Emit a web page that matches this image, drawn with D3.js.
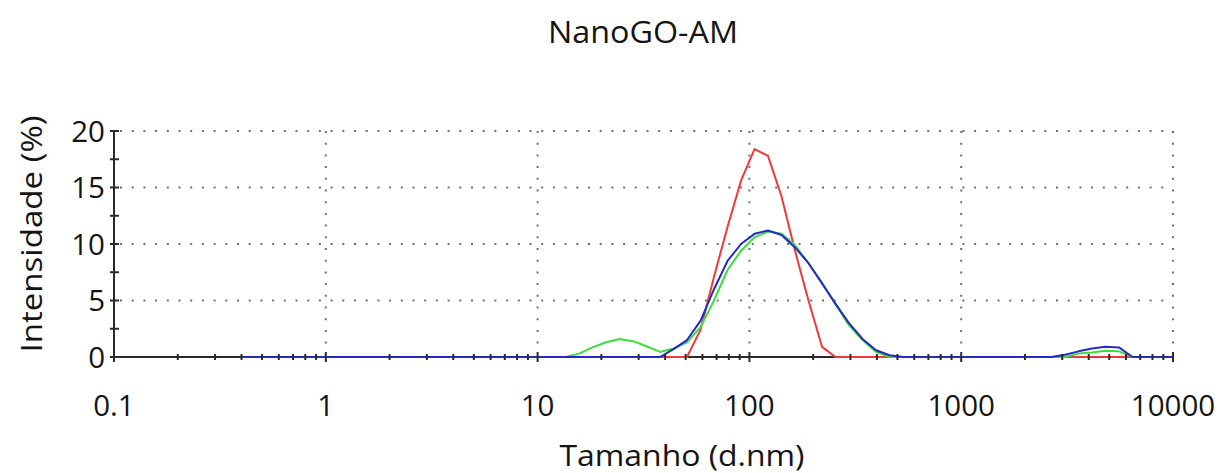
<!DOCTYPE html>
<html><head><meta charset="utf-8">
<script src="https://cdn.jsdelivr.net/npm/d3@7"></script>
<style>
html,body{margin:0;padding:0;background:#fff;}
text{font-family:"Open Sans","Noto Sans",sans-serif;fill:#141414;}
</style></head>
<body><svg id="c" width="1220" height="473"></svg>
<script>
// Size bins (d.nm)
const sizes = [0.4,0.4632,0.5365,0.6213,0.7195,0.8332,0.9649,1.117,1.294,1.499,
1.736,2.010,2.328,2.696,3.122,3.615,4.187,4.849,5.615,6.503,
7.531,8.721,10.10,11.70,13.54,15.69,18.17,21.04,24.36,28.21,
32.67,37.84,43.82,50.75,58.77,68.06,78.82,91.28,105.7,122.4,
141.8,164.2,190.1,220.2,255.0,295.3,342.0,396.1,458.7,531.2,
615.1,712.4,825.0,955.4,1106,1281,1484,1718,1990,2305,
2669,3091,3580,4145,4801,5560,6439,7456,8635,10000];
// Intensity (%) per bin for the three measurements
const redValues = [0,0,0,0,0,0,0,0,0,0,
0,0,0,0,0,0,0,0,0,0,
0,0,0,0,0,0,0,0,0,0,
0,0,0,0,2.4,7.1,11.5,15.6,18.4,17.8,
14.2,9.4,5.0,0.9,0,0,0,0,0,0,
0,0,0,0,0,0,0,0,0,0,
0,0,0,0,0,0,0,0,0,0];
const greenValues = [0,0,0,0,0,0,0,0,0,0,
0,0,0,0,0,0,0,0,0,0,
0,0,0,0,0,0.3,0.85,1.3,1.6,1.4,
0.95,0.45,0.75,1.3,2.65,5.0,7.7,9.4,10.6,11.1,
10.9,9.9,8.3,6.6,4.7,2.8,1.5,0.45,0,0,
0,0,0,0,0,0,0,0,0,0,
0,0,0.3,0.4,0.55,0.5,0,0,0,0];
const blueValues = [0,0,0,0,0,0,0,0,0,0,
0,0,0,0,0,0,0,0,0,0,
0,0,0,0,0,0,0,0,0,0,
0,0,0.7,1.5,3.2,6.0,8.5,10.0,10.9,11.2,
10.8,9.7,8.3,6.5,4.7,3.0,1.6,0.6,0.15,0,
0,0,0,0,0,0,0,0,0,0,
0,0.2,0.5,0.75,0.9,0.85,0,0,0,0];
const xTickLabels = ["0.1","1","10","100","1000","10000"];
const xDecades = [0.1,1,10,100,1000,10000];
const yTicks = [0,5,10,15,20];
const yMinorTicks = [0,2.5,5,7.5,10,12.5,15,17.5,20];
const title = "NanoGO-AM";
const xTitle = "Tamanho (d.nm)";
const yTitle = "Intensidade (%)";
const series = [
  {name:"red", values:redValues, color:"#f03a3a"},
  {name:"green", values:greenValues, color:"#3ddc3d"},
  {name:"blue", values:blueValues, color:"#2828c8"}
];

const svg = d3.select("#c");
const L=114, R=1173, T=131, B=357;
const x = d3.scaleLog().domain([0.1,10000]).range([L,R]);
const y = d3.scaleLinear().domain([0,20]).range([B,T]);

// minor log ticks
const minorX = [];
xDecades.slice(0,-1).forEach(d=>{ for(let k=2;k<=9;k++) minorX.push(d*k); });

// grid
const grid = svg.append("g").attr("stroke","#707070").attr("stroke-width",2)
  .attr("stroke-dasharray","2,9.7").attr("stroke-linecap","butt");
yTicks.filter(v=>v>0).forEach(v=>{
  grid.append("line").attr("x1",L+6).attr("x2",R).attr("y1",y(v)).attr("y2",y(v));
});
xDecades.slice(1).forEach(d=>{
  grid.append("line").attr("x1",x(d)).attr("x2",x(d)).attr("y1",T).attr("y2",B-4);
});

// axes lines
svg.append("line").attr("x1",L).attr("x2",L).attr("y1",T).attr("y2",B)
  .attr("stroke","#2a2a2a").attr("stroke-width",2);
svg.append("line").attr("x1",L).attr("x2",R).attr("y1",B).attr("y2",B)
  .attr("stroke","#2a2a2a").attr("stroke-width",2);

// series
const line = d3.line().x((d,i)=>x(sizes[i])).y(d=>y(d));
series.forEach(s=>{
  svg.append("path").datum(s.values).attr("d",line)
    .attr("fill","none").attr("stroke",s.color).attr("stroke-width",2)
    .attr("stroke-linejoin","round");
});

// ticks on top
const tk = svg.append("g").attr("stroke","#2a2a2a").attr("stroke-width",2);
minorX.forEach(v=>{
  tk.append("line").attr("x1",x(v)).attr("x2",x(v)).attr("y1",B-3).attr("y2",B+3);
});
xDecades.forEach(v=>{
  tk.append("line").attr("x1",x(v)).attr("x2",x(v)).attr("y1",B-5).attr("y2",B+5);
});
yMinorTicks.forEach(v=>{
  tk.append("line").attr("x1",L-4).attr("x2",L+5).attr("y1",y(v)).attr("y2",y(v));
});

// labels
svg.append("g").selectAll("text").data(xDecades).join("text")
  .attr("x",d=>x(d)).attr("y",416).attr("text-anchor","middle")
  .attr("font-size",29.5).text((d,i)=>xTickLabels[i]);
svg.append("g").selectAll("text").data(yTicks).join("text")
  .attr("x",105).attr("y",d=>y(d)+10.5).attr("text-anchor","end")
  .attr("font-size",29.5).text(d=>d);
svg.append("text").attr("x",643).attr("y",43).attr("text-anchor","middle")
  .attr("font-size",31).attr("textLength",190).attr("lengthAdjust","spacingAndGlyphs").text(title);
svg.append("text").attr("x",682).attr("y",466).attr("text-anchor","middle")
  .attr("font-size",28.5).attr("textLength",245).attr("lengthAdjust","spacingAndGlyphs").text(xTitle);
svg.append("text").attr("transform","translate(42,234) rotate(-90)")
  .attr("text-anchor","middle").attr("font-size",29.5)
  .attr("textLength",237).attr("lengthAdjust","spacingAndGlyphs").text(yTitle);
</script></body></html>
